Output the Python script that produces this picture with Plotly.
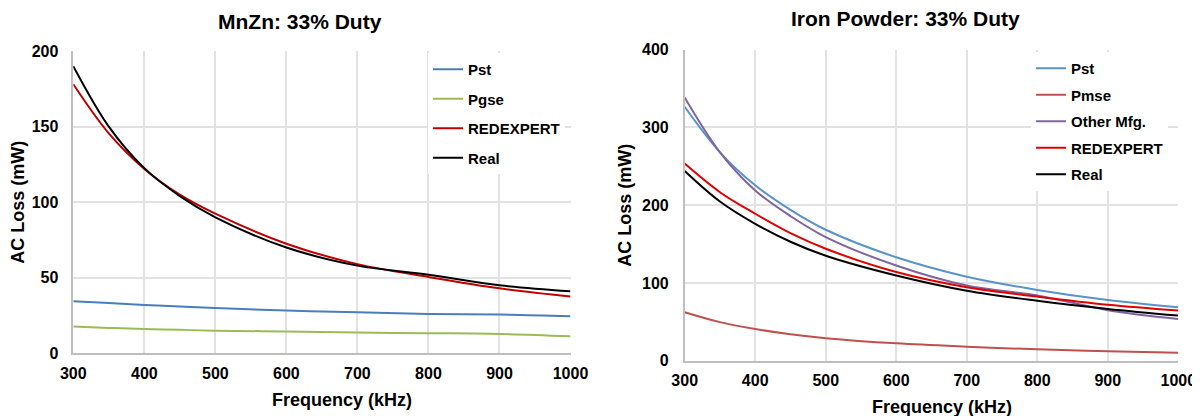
import plotly.graph_objects as go

freq = [300, 350, 400, 450, 500, 600, 700, 800, 900, 1000]

# MnZn: 33% Duty
mnzn_pst = [34.5, 33.2, 32.0, 31.0, 30.0, 28.3, 27.2, 26.0, 25.6, 24.5]
mnzn_pgse = [17.7, 16.8, 16.0, 15.5, 15.0, 14.4, 13.7, 13.3, 12.8, 11.3]
mnzn_redexpert = [178.0, 145.5, 122.0, 105.0, 92.4, 72.5, 59.0, 50.5, 43.0, 37.6]
mnzn_real = [190.0, 150.0, 122.5, 104.0, 90.0, 70.0, 58.0, 52.0, 45.0, 41.0]

# Iron Powder: 33% Duty
iron_pst = [326.5, 268.0, 225.6, 194.0, 168.4, 133.0, 108.0, 91.0, 78.0, 68.7]
iron_pmse = [62.3, 49.6, 40.8, 34.0, 29.0, 22.3, 18.0, 14.6, 12.0, 10.3]
iron_other = [338.5, 268.0, 219.0, 186.0, 159.0, 122.4, 96.7, 84.0, 65.0, 53.7]
iron_redexpert = [253.5, 216.7, 189.0, 164.0, 144.0, 114.0, 94.5, 82.5, 72.0, 64.5]
iron_real = [244.0, 204.7, 176.0, 153.0, 135.0, 109.6, 90.0, 77.0, 66.6, 58.0]

x_ticks = [300, 400, 500, 600, 700, 800, 900, 1000]
left_y_ticks = [0, 50, 100, 150, 200]
right_y_ticks = [0, 100, 200, 300, 400]

FONT = "Liberation Sans, Arial, sans-serif"

fig = go.Figure()

def add(x, y, name, color, xa, ya, legend, group):
    fig.add_trace(go.Scatter(
        x=x, y=y, name="<b>" + name + "</b>", mode="lines",
        line=dict(color=color, width=2, shape="spline", smoothing=1.0),
        xaxis=xa, yaxis=ya, legend=legend, legendgroup=group,
    ))

add(freq, mnzn_pst, "Pst", "#4a7ebb", "x", "y", "legend", "a1")
add(freq, mnzn_pgse, "Pgse", "#9bbb59", "x", "y", "legend", "a2")
add(freq, mnzn_redexpert, "REDEXPERT", "#c00000", "x", "y", "legend", "a3")
add(freq, mnzn_real, "Real", "#000000", "x", "y", "legend", "a4")

add(freq, iron_pst, "Pst", "#5a93c8", "x2", "y2", "legend2", "b1")
add(freq, iron_pmse, "Pmse", "#c0504d", "x2", "y2", "legend2", "b2")
add(freq, iron_other, "Other Mfg.", "#8064a2", "x2", "y2", "legend2", "b3")
add(freq, iron_redexpert, "REDEXPERT", "#e00000", "x2", "y2", "legend2", "b4")
add(freq, iron_real, "Real", "#000000", "x2", "y2", "legend2", "b5")

# page body has an 8px margin; figure fills the rest of the 1200x416 window
OFF = 8
W, H = 1200 - OFF, 416 - OFF

def px(v):
    return (v - OFF) / W

def py(v):
    return 1 - (v - OFF) / H

def bold(vals):
    return ["<b>%d</b>" % v for v in vals]

tickfont = dict(family=FONT, size=16, color="#000000")
titlefont = dict(family=FONT, size=18, color="#000000")
grid = "#e2e2e2"
axisline = "#bfbfbf"

common_x = dict(
    range=[300, 1000], tickvals=x_ticks, ticktext=bold(x_ticks),
    showgrid=True, gridcolor=grid, gridwidth=1.5, zeroline=False,
    showline=True, linecolor=axisline, linewidth=1.5, automargin=False,
    ticks="", tickfont=tickfont,
)
common_y = dict(
    showgrid=True, gridcolor=grid, gridwidth=1.5, zeroline=False,
    showline=True, linecolor=axisline, linewidth=1.5, automargin=False,
    ticks="", tickfont=tickfont,
)

fig.update_layout(
    width=W, height=H,
    margin=dict(l=0, r=0, t=0, b=0),
    paper_bgcolor="white", plot_bgcolor="white",
    font=dict(family=FONT, color="#000000"),
    xaxis=dict(domain=[px(73.3), px(570.5)], anchor="y", ticklabelstandoff=5, **common_x),
    yaxis=dict(domain=[py(353.3), py(51)], anchor="x", range=[0, 200],
               tickvals=left_y_ticks, ticktext=bold(left_y_ticks), ticklabelstandoff=10,
               title=dict(text="<b>AC Loss (mW)</b>", font=titlefont, standoff=5),
               **common_y),
    xaxis2=dict(domain=[px(684.7), px(1178.3)], anchor="y2", ticklabelstandoff=4, **common_x),
    yaxis2=dict(domain=[py(360.7), py(49.7)], anchor="x2", range=[0, 400],
                tickvals=right_y_ticks, ticktext=bold(right_y_ticks), ticklabelstandoff=11,
                title=dict(text="<b>AC Loss (mW)</b>", font=titlefont, standoff=6),
                **common_y),
    legend=dict(x=px(428), y=py(53), xanchor="left", yanchor="top",
                bgcolor="white", font=dict(family=FONT, size=15, color="#000000"),
                tracegroupgap=7, itemwidth=30),
    legend2=dict(x=px(1031), y=py(52), xanchor="left", yanchor="top",
                 bgcolor="white", font=dict(family=FONT, size=15, color="#000000"),
                 tracegroupgap=4, itemwidth=30),
    annotations=[
        dict(text="<b>MnZn: 33% Duty</b>", x=px(300), y=py(22), xref="paper", yref="paper",
             xanchor="center", yanchor="middle", showarrow=False,
             font=dict(family=FONT, size=21, color="#000000")),
        dict(text="<b>Iron Powder: 33% Duty</b>", x=px(905), y=py(18), xref="paper", yref="paper",
             xanchor="center", yanchor="middle", showarrow=False,
             font=dict(family=FONT, size=21, color="#000000")),
        dict(text="<b>Frequency (kHz)</b>", x=px(342), y=py(400), xref="paper", yref="paper",
             xanchor="center", yanchor="middle", showarrow=False, font=titlefont),
        dict(text="<b>Frequency (kHz)</b>", x=px(941.7), y=py(406.5), xref="paper", yref="paper",
             xanchor="center", yanchor="middle", showarrow=False, font=titlefont),
    ],
)

fig.write_html("out.html")
